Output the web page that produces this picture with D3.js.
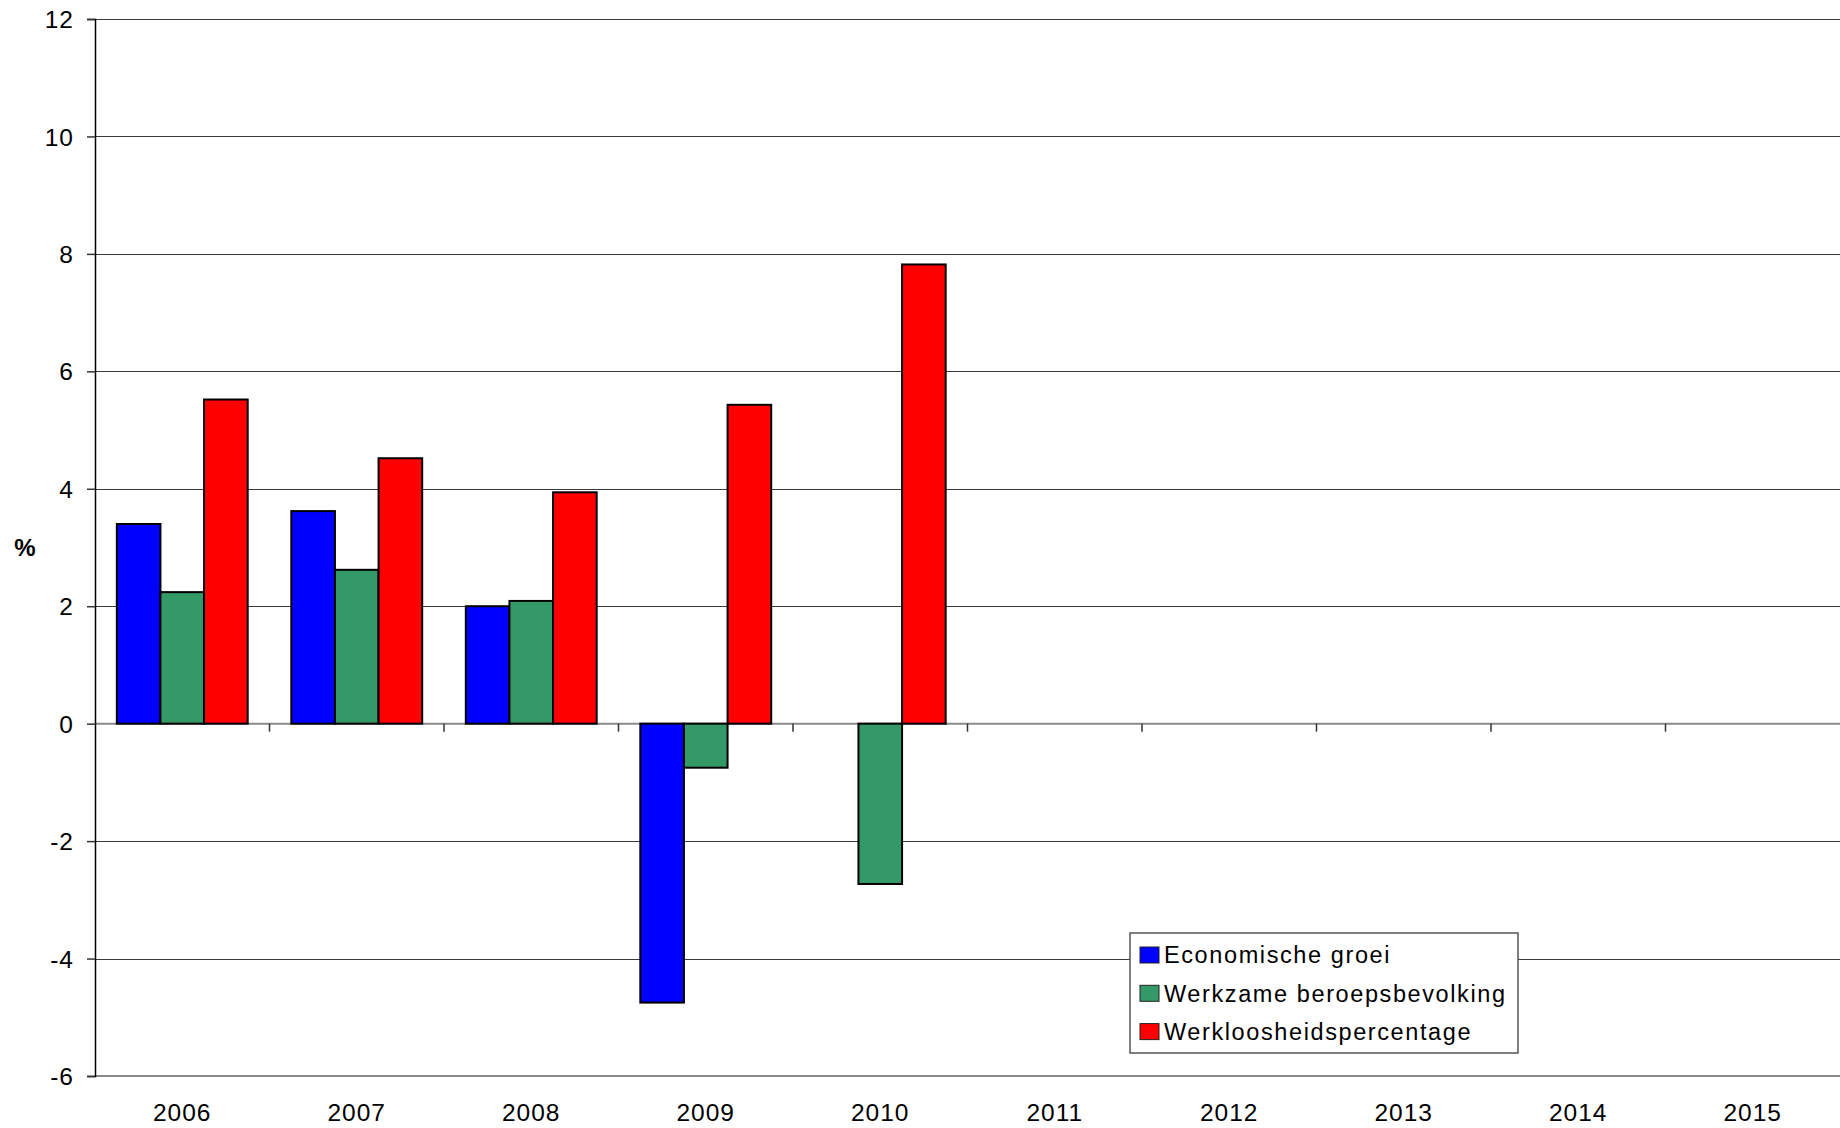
<!DOCTYPE html>
<html lang="nl">
<head>
    <meta charset="UTF-8">
    <title>Economische groei, werkzame beroepsbevolking en werkloosheid</title>
    <script src="https://d3js.org/d3.v7.min.js"></script>
    <style>
        body {
            margin: 0;
            background: white;
            font-family: "Liberation Sans", Arial, sans-serif;
        }
        .tick text {
            font-size: 24.5px;
            letter-spacing: 1px;
            fill: black;
        }
        .legend text {
            font-size: 23.5px;
            letter-spacing: 1.6px;
        }
    </style>
</head>
<body>
<div id="chart"></div>
<script>
    const years = ["2006", "2007", "2008", "2009", "2010", "2011", "2012", "2013", "2014", "2015"];
    const seriesNames = ["Economische groei", "Werkzame beroepsbevolking", "Werkloosheidspercentage"];
    const seriesColors = ["#0000ff", "#339966", "#ff0000"];
    // null = no value for that year
    const economischeGroei = [3.4, 3.62, 2.0, -4.75, null, null, null, null, null, null];
    const werkzameBeroepsbevolking = [2.24, 2.62, 2.09, -0.75, -2.73, null, null, null, null, null];
    const werkloosheid = [5.52, 4.52, 3.94, 5.43, 7.82, null, null, null, null, null];
    const yTicks = [-6, -4, -2, 0, 2, 4, 6, 8, 10, 12];

    const seriesValues = [economischeGroei, werkzameBeroepsbevolking, werkloosheid];

    const W = 1840, H = 1128;
    const margin = { top: 19, right: 0, bottom: 52, left: 95 };
    const width = W - margin.left - margin.right;
    const height = H - margin.top - margin.bottom;

    const svg = d3.select("#chart")
        .append("svg")
        .attr("width", W)
        .attr("height", H);

    const g = svg.append("g")
        .attr("transform", `translate(${margin.left},${margin.top})`);

    const x0 = d3.scaleBand().domain(years).range([0, width]).padding(0);
    const x1 = d3.scaleBand()
        .domain(d3.range(seriesNames.length))
        .range([x0.bandwidth() / 8, x0.bandwidth() * 7 / 8]);
    const y = d3.scaleLinear().domain([-6, 12]).range([height, 0]);

    // gridlines
    g.append("g")
        .selectAll("line")
        .data(yTicks.filter(t => t !== 0 && t !== -6))
        .enter().append("line")
        .attr("x1", 0)
        .attr("x2", width)
        .attr("y1", d => Math.round(y(d)) + 0.5)
        .attr("y2", d => Math.round(y(d)) + 0.5)
        .attr("stroke", "#3a3a3a")
        .attr("stroke-width", 1);

    // bottom border of plot area
    g.append("line")
        .attr("x1", 0).attr("x2", width)
        .attr("y1", y(-6)).attr("y2", y(-6))
        .attr("stroke", "#8a8a8a")
        .attr("stroke-width", 2);

    const rows = [];
    years.forEach((yr, i) => {
        seriesValues.forEach((vals, s) => {
            if (vals[i] !== null) rows.push({ year: yr, s: s, value: vals[i] });
        });
    });

    // zero axis line (drawn before bars so outlines sit on top)
    g.append("line")
        .attr("x1", 0).attr("x2", width)
        .attr("y1", y(0)).attr("y2", y(0))
        .attr("stroke", "#8a8a8a")
        .attr("stroke-width", 2);

    g.selectAll("rect.bar")
        .data(rows)
        .enter().append("rect")
        .attr("class", "bar")
        .attr("x", d => x0(d.year) + x1(d.s))
        .attr("width", x1.bandwidth())
        .attr("y", d => y(Math.max(0, d.value)))
        .attr("height", d => Math.abs(y(d.value) - y(0)))
        .attr("fill", d => seriesColors[d.s])
        .attr("stroke", "black")
        .attr("stroke-width", 2);

    // x axis: ticks between categories, labels centered below
    const xAxis = g.append("g")
        .attr("transform", `translate(0,${y(0)})`);
    xAxis.selectAll("line")
        .data(years.slice(1))
        .enter().append("line")
        .attr("x1", d => x0(d))
        .attr("x2", d => x0(d))
        .attr("y1", 0)
        .attr("y2", 8)
        .attr("stroke", "#333")
        .attr("stroke-width", 1.5);

    g.append("g")
        .attr("class", "tick")
        .selectAll("text")
        .data(years)
        .enter().append("text")
        .attr("x", d => x0(d) + x0.bandwidth() / 2)
        .attr("y", height + 45)
        .attr("text-anchor", "middle")
        .text(d => d);

    // y axis
    const yAxis = g.append("g")
        .call(d3.axisLeft(y).tickValues(yTicks).tickSize(8).tickPadding(13).tickFormat(d => String(d)));
    yAxis.select(".domain").attr("stroke", "black").attr("stroke-width", 1.5);
    yAxis.selectAll(".tick line").attr("stroke", "#333").attr("stroke-width", 1.5);
    yAxis.selectAll(".tick text").attr("dy", "0.35em");
    yAxis.attr("font-family", null).attr("font-size", null);

    svg.append("text")
        .attr("x", 25)
        .attr("y", 556)
        .attr("text-anchor", "middle")
        .style("font-size", "24px")
        .style("font-weight", "bold")
        .text("%");

    // legend
    const legend = svg.append("g")
        .attr("class", "legend")
        .attr("transform", "translate(1130,933)");
    legend.append("rect")
        .attr("width", 388)
        .attr("height", 120)
        .attr("fill", "white")
        .attr("stroke", "#555")
        .attr("stroke-width", 1.5);
    const item = legend.selectAll("g.item")
        .data(seriesNames)
        .enter().append("g")
        .attr("class", "item")
        .attr("transform", (d, i) => `translate(10,${22 + i * 38.3})`);
    item.append("rect")
        .attr("x", 0)
        .attr("y", -8)
        .attr("width", 19)
        .attr("height", 16)
        .attr("fill", (d, i) => seriesColors[i])
        .attr("stroke", "#222")
        .attr("stroke-width", 1);
    item.append("text")
        .attr("x", 24)
        .attr("dy", "0.36em")
        .text(d => d);
</script>
</body>
</html>
